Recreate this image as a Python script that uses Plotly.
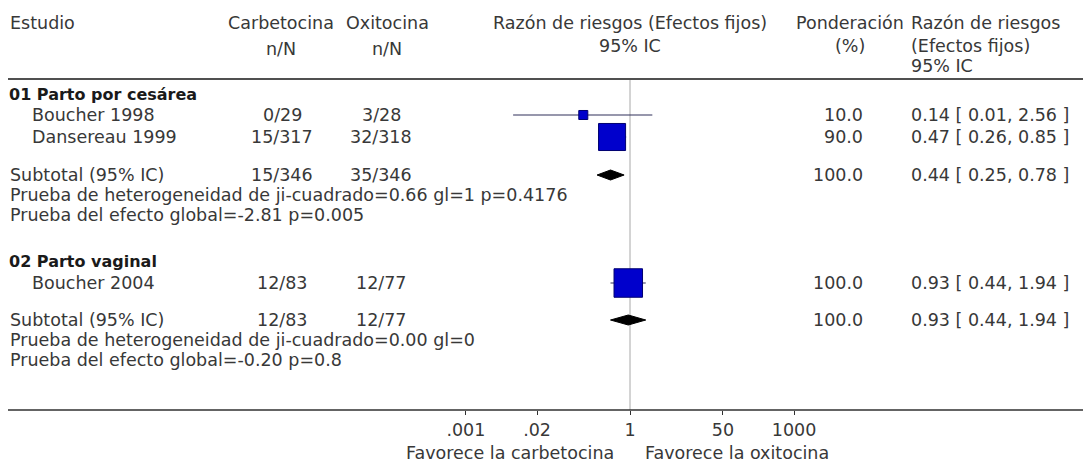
import math
import plotly.graph_objects as go

# The page body adds an 8px margin; the figure is sized and shifted to compensate.
OFF = 8
W, H = 1091 - OFF, 464 - OFF

# ---------------- data ----------------
groups = ["01 Parto por cesárea", "02 Parto vaginal"]
study_names = ["Boucher 1998", "Dansereau 1999", "Boucher 2004"]
study_group = [0, 0, 1]
carb_events = [0, 15, 12]
carb_total = [29, 317, 83]
oxi_events = [3, 32, 12]
oxi_total = [28, 318, 77]
study_rr = [0.14, 0.47, 0.93]
study_lo = [0.0073, 0.26, 0.44]
study_hi = [2.56, 0.85, 1.94]
study_weight = [10.0, 90.0, 100.0]

sub_carb_events = [15, 12]
sub_carb_total = [346, 83]
sub_oxi_events = [35, 12]
sub_oxi_total = [346, 77]
sub_rr = [0.44, 0.93]
sub_lo = [0.25, 0.44]
sub_hi = [0.78, 1.94]
sub_weight = [100.0, 100.0]
het_text = ["ji-cuadrado=0.66 gl=1 p=0.4176", "ji-cuadrado=0.00 gl=0"]
overall_text = ["=-2.81 p=0.005", "=-0.20 p=0.8"]

tick_vals = [0.001, 0.02, 1, 50, 1000]
tick_text = [".001", ".02", "1", "50", "1000"]
fav_left = "Favorece la carbetocina"
fav_right = "Favorece la oxitocina"

# ---------------- layout constants (page pixels) ----------------
NULL_X = 630.0      # page pixel of RR = 1
DECADE = 54.7       # pixels per decade
PLOT_BOTTOM = 410   # axis line
RULE_Y = 79
GROUP_Y = [94, 261]
STUDY_Y = [115, 137, 283]
SUB_Y = [175, 320]
ROW_STEP = 20

FONT = "DejaVu Sans"
FS = 17.5
TXT_COL = "#383838"

annotations = []


def px_x(px):
    return (px - OFF) / W


def px_y(py):
    return 1 - (py - OFF) / H


def txt(s, px, py, anchor="left", size=FS, bold=False, color=TXT_COL):
    annotations.append(dict(
        text=s, x=px_x(px), y=px_y(py), xref="paper", yref="paper",
        xanchor=anchor, yanchor="middle", showarrow=False,
        font=dict(family=FONT, size=size, color=color,
                  weight="bold" if bold else "normal"),
    ))


def ci_text(rr, lo, hi):
    return f"{rr:.2f} [ {lo:.2f}, {hi:.2f} ]"


# header
H1, H2, H3 = 23, 46, 66
txt("Estudio", 8, H1)
txt("Carbetocina", 281, H1, "center")
txt("n/N", 281, H2 + 3, "center")
txt("Oxitocina", 387, H1, "center")
txt("n/N", 387, H2 + 3, "center")
txt("Razón de riesgos (Efectos fijos)", 630, H1, "center")
txt("95% IC", 630, H2, "center")
txt("Ponderación", 850, H1, "center")
txt("(%)", 850, H2, "center")
txt("Razón de riesgos", 909, H1, "left")
txt("(Efectos fijos)", 909, H2, "left")
txt("95% IC", 909, H3, "left")

# groups
for g, name in enumerate(groups):
    txt(name, 7, GROUP_Y[g], bold=True, size=16, color="#1a1a1a")
    for i in range(len(study_names)):
        if study_group[i] != g:
            continue
        y = STUDY_Y[i]
        txt(study_names[i], 30, y)
        txt(f"{carb_events[i]}/{carb_total[i]}", 282, y, "center")
        txt(f"{oxi_events[i]}/{oxi_total[i]}", 381, y, "center")
        txt(f"{study_weight[i]:.1f}", 865, y, "right")
        txt(ci_text(study_rr[i], study_lo[i], study_hi[i]), 909, y)
    y = SUB_Y[g]
    txt("Subtotal (95% IC)", 8, y)
    txt(f"{sub_carb_events[g]}/{sub_carb_total[g]}", 282, y, "center")
    txt(f"{sub_oxi_events[g]}/{sub_oxi_total[g]}", 381, y, "center")
    txt(f"{sub_weight[g]:.1f}", 865, y, "right")
    txt(ci_text(sub_rr[g], sub_lo[g], sub_hi[g]), 909, y)
    txt("Prueba de heterogeneidad de " + het_text[g], 8, y + ROW_STEP)
    txt("Prueba del efecto global" + overall_text[g], 8, y + 2 * ROW_STEP)

# favours labels
txt(fav_left, 616, 453, "right")
txt(fav_right, 643, 453, "left")

# ---------------- traces ----------------
fig = go.Figure()

# null line
fig.add_trace(go.Scatter(x=[1, 1], y=[RULE_Y, PLOT_BOTTOM], mode="lines",
                         line=dict(color="#a8a8a8", width=1), hoverinfo="skip"))

# CI lines
for i in range(len(study_names)):
    fig.add_trace(go.Scatter(x=[study_lo[i], study_hi[i]], y=[STUDY_Y[i], STUDY_Y[i]],
                             mode="lines", line=dict(color="#30305a", width=1.2),
                             hoverinfo="skip"))

# squares (size ~ sqrt of weight)
fig.add_trace(go.Scatter(
    x=study_rr, y=STUDY_Y, mode="markers",
    marker=dict(symbol="square", size=[2.85 * math.sqrt(w) for w in study_weight],
                color="#0000cc", opacity=1, line=dict(color="#000070", width=1)),
    hoverinfo="skip"))

# diamonds
HALF = 5
for g in range(len(groups)):
    y = SUB_Y[g]
    fig.add_trace(go.Scatter(
        x=[sub_lo[g], sub_rr[g], sub_hi[g], sub_rr[g], sub_lo[g]],
        y=[y, y - HALF, y, y + HALF, y], mode="lines", fill="toself",
        fillcolor="#000000", line=dict(color="#000000", width=1), hoverinfo="skip"))

shapes = [
    dict(type="line", xref="paper", yref="paper", x0=0, x1=1,
         y0=px_y(RULE_Y), y1=px_y(RULE_Y), line=dict(color="#505050", width=2)),
    dict(type="line", xref="paper", yref="paper", x0=0, x1=1,
         y0=px_y(PLOT_BOTTOM), y1=px_y(PLOT_BOTTOM), line=dict(color="#303030", width=1.5)),
]

fig.update_layout(
    width=W, height=H, margin=dict(l=0, r=0, t=0, b=0),
    paper_bgcolor="white", plot_bgcolor="white", showlegend=False,
    annotations=annotations, shapes=shapes,
    xaxis=dict(type="log", domain=[0, 1],
               range=[(OFF - NULL_X) / DECADE, (OFF + W - NULL_X) / DECADE],
               tickvals=tick_vals, ticktext=tick_text, ticks="outside",
               ticklen=4, tickcolor="#303030", showline=False, showgrid=False,
               zeroline=False, tickfont=dict(family=FONT, size=FS, color=TXT_COL),
               fixedrange=True),
    yaxis=dict(range=[PLOT_BOTTOM, OFF], domain=[px_y(PLOT_BOTTOM), 1], visible=False,
               fixedrange=True),
)

fig.write_html("out.html")
